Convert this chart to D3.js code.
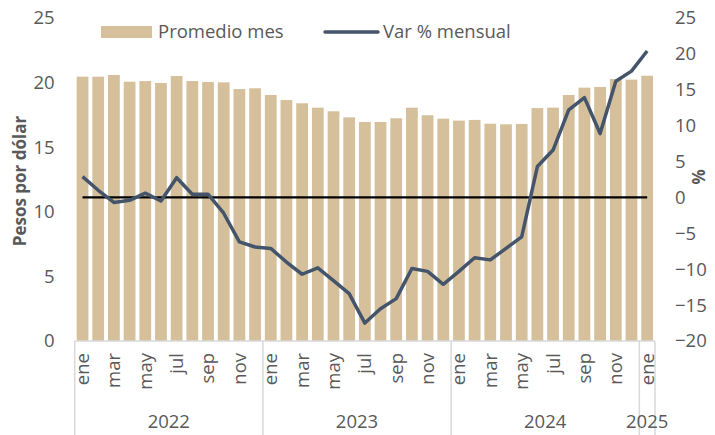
<!DOCTYPE html>
<html>
<head>
<meta charset="utf-8">
<script src="https://cdn.jsdelivr.net/npm/d3@7"></script>
<style>
  body { margin: 0; background: #fff; }
  text { font-family: "Open Sans", sans-serif; fill: #595959; }
</style>
</head>
<body>
<div id="chart"></div>
<script>
var years = ["2022", "2023", "2024", "2025"];
var monthNames = ["ene","feb","mar","abr","may","jun","jul","ago","sep","oct","nov","dic"];

// promedio mes (pesos por dolar), ene 2022 - ene 2025
var promedio = [20.46, 20.46, 20.59, 20.07, 20.12, 19.97, 20.51, 20.12, 20.05, 20.02, 19.50, 19.56,
                19.04, 18.65, 18.40, 18.06, 17.78, 17.31, 16.95, 16.95, 17.24, 18.06, 17.47, 17.21,
                17.06, 17.11, 16.82, 16.77, 16.80, 18.03, 18.06, 19.04, 19.61, 19.66, 20.28, 20.23,
                20.53];

// var % mensual
var variacion = [2.9, 1.0, -0.7, -0.4, 0.6, -0.5, 2.75, 0.45, 0.45, -2.2, -6.2, -6.9,
                 -7.1, -9.0, -10.7, -9.8, -11.6, -13.4, -17.5, -15.5, -14.1, -9.9, -10.3, -12.1,
                 -10.3, -8.4, -8.7, -7.1, -5.5, 4.3, 6.6, 12.2, 13.9, 8.9, 16.2, 17.6,
                 20.4];

var leftTicks = [0, 5, 10, 15, 20, 25];
var rightTicks = [-20, -15, -10, -5, 0, 5, 10, 15, 20, 25];

var w = 715, h = 435;
var p = {"top": 18, "bot": 341, "left": 74.7, "right": 655};
var fs = "18.5px";

var idx = d3.range(promedio.length);
function monthOf(i){ return monthNames[i % 12] }

var svg = d3.select("#chart").append("svg")
  .attr("width", w)
  .attr("height", h)

var x = d3.scaleBand()
  .domain(idx)
  .range([p.left, p.right])
  .paddingInner(0.25)
  .paddingOuter(0.125)

var yL = d3.scaleLinear().domain([0, 25]).range([p.bot, p.top]);
var yR = d3.scaleLinear().domain([-20, 25]).range([p.bot, p.top]);

// bars
svg.selectAll(".bar")
  .data(idx)
  .enter()
    .append("rect")
      .attr("class", "bar")
      .attr("x", function(i){ return x(i) })
      .attr("y", function(i){ return yL(promedio[i]) })
      .attr("width", x.bandwidth())
      .attr("height", function(i){ return yL(0) - yL(promedio[i]) })
      .style("fill", "#d5c09b")

// zero line
var cx = function(i){ return x(i) + x.bandwidth() / 2 };
svg.append("line")
  .attr("x1", cx(0))
  .attr("x2", cx(idx.length - 1))
  .attr("y1", yR(0))
  .attr("y2", yR(0))
  .style("stroke", "#000")
  .style("stroke-width", 2.2)

// var % line
var line = d3.line()
  .x(function(i){ return cx(i) })
  .y(function(i){ return yR(variacion[i]) })

svg.append("path")
  .datum(idx)
  .attr("d", line)
  .style("fill", "none")
  .style("stroke", "#44546a")
  .style("stroke-width", 3.5)
  .style("stroke-linejoin", "round")

// value axes
var axL = svg.append("g")
  .attr("transform", "translate(" + (p.left - 20) + ",0)")
  .call(d3.axisLeft(yL).tickValues(leftTicks).tickSize(0).tickPadding(0))
axL.select(".domain").remove();

var axR = svg.append("g")
  .attr("transform", "translate(" + (p.right + 20) + ",0)")
  .call(d3.axisRight(yR).tickValues(rightTicks).tickSize(0).tickPadding(0))
axR.select(".domain").remove();

svg.selectAll(".tick text")
  .style("font-size", fs)
  .style("font-family", "'Open Sans', sans-serif")
  .attr("fill", "#595959")

// axis titles
svg.append("text")
  .attr("transform", "translate(26,181) rotate(-90)")
  .style("text-anchor", "middle")
  .style("font-size", "17px")
  .style("font-weight", "bold")
  .text("Pesos por dólar")

svg.append("text")
  .attr("transform", "translate(692,177) rotate(90)")
  .style("text-anchor", "middle")
  .style("font-size", "17px")
  .style("font-weight", "bold")
  .text("%")

// category axis
var grey = "#d9d9d9";
svg.append("line")
  .attr("x1", p.left).attr("x2", p.right)
  .attr("y1", p.bot).attr("y2", p.bot)
  .style("stroke", grey).style("stroke-width", 1.5)

var yearStarts = years.map(function(d, k){ return k * 12 });
var bounds = yearStarts.map(function(s){ return x(s) - x.step() * x.paddingInner() / 2 });
bounds.push(p.right);
bounds[0] = p.left;

svg.selectAll(".sep")
  .data(bounds)
  .enter()
    .append("line")
      .attr("x1", function(d){ return d })
      .attr("x2", function(d){ return d })
      .attr("y1", p.bot)
      .attr("y2", h)
      .style("stroke", grey)
      .style("stroke-width", 1.5)

svg.selectAll(".month")
  .data(idx.filter(function(i){ return i % 2 == 0 }))
  .enter()
    .append("text")
      .attr("transform", function(i){ return "translate(" + cx(i) + ",353) rotate(-90)" })
      .attr("dy", "0.35em")
      .style("text-anchor", "end")
      .style("font-size", fs)
      .text(monthOf)

svg.selectAll(".year")
  .data(years)
  .enter()
    .append("text")
      .attr("x", function(d, k){ return (bounds[k] + bounds[k + 1]) / 2 })
      .attr("y", 428)
      .style("text-anchor", "middle")
      .style("font-size", fs)
      .text(function(d){ return d })

// legend
svg.append("rect")
  .attr("x", 101).attr("y", 26)
  .attr("width", 51).attr("height", 12)
  .style("fill", "#d5c09b")
svg.append("text")
  .attr("x", 158).attr("y", 38)
  .style("font-size", fs)
  .text("Promedio mes")

svg.append("line")
  .attr("x1", 325).attr("x2", 378)
  .attr("y1", 32).attr("y2", 32)
  .style("stroke", "#44546a")
  .style("stroke-width", 3.5)
  .style("stroke-linecap", "round")
svg.append("text")
  .attr("x", 383).attr("y", 38)
  .style("font-size", fs)
  .text("Var % mensual")
</script>
</body>
</html>
